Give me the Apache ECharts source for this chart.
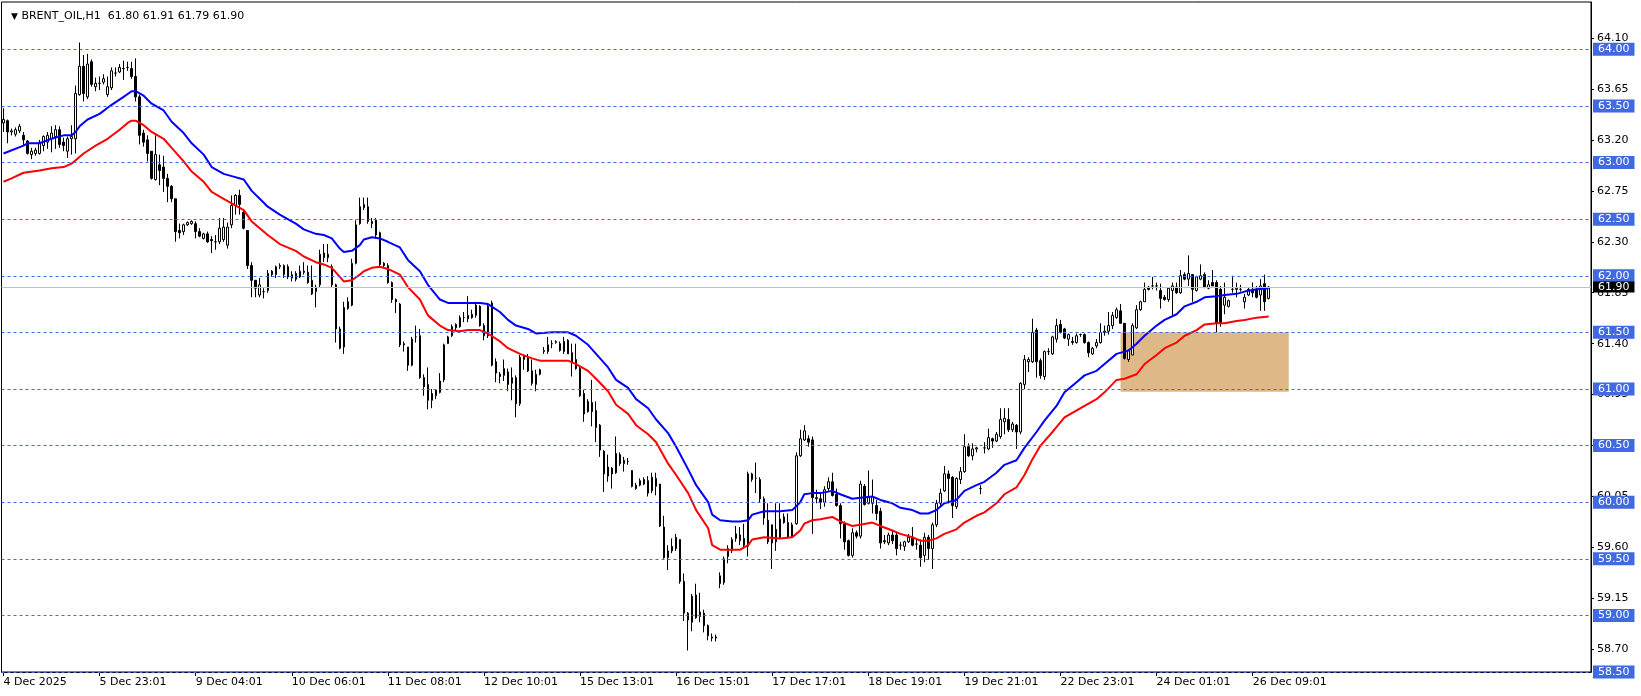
<!DOCTYPE html>
<html><head><meta charset="utf-8">
<script src="https://cdn.jsdelivr.net/npm/echarts@6/dist/echarts.min.js"></script>
<style>html,body{margin:0;padding:0;background:#fff;}#c{width:1641px;height:696px;}</style>
</head><body><div id="c"></div>
<script>
const symbolName = 'BRENT_OIL,H1';
const timeLabels = ['4 Dec 2025','5 Dec 23:01','9 Dec 04:01','10 Dec 06:01','11 Dec 08:01','12 Dec 10:01','15 Dec 13:01','16 Dec 15:01','17 Dec 17:01','18 Dec 19:01','19 Dec 21:01','22 Dec 23:01','24 Dec 01:01','26 Dec 09:01'];
const priceTicks = [58.70,59.15,59.60,60.05,60.50,60.95,61.40,61.85,62.30,62.75,63.20,63.65,64.10];
const levelLines = [58.5,59.0,59.5,60.0,60.5,61.0,61.5,62.0,62.5,63.0,63.5,64.0];
const currentPrice = 61.90;
const zoneBox = {fromBar: 279, toBar: 321, top: 61.50, bottom: 60.975};

const openP = [
63.35,63.37,63.27,63.25,63.28,63.24,63.19,63.07,63.08,63.08,
63.15,63.18,63.21,63.23,63.29,63.18,63.10,63.21,63.21,63.60,
63.85,63.58,63.89,63.67,63.70,63.71,63.60,63.66,63.79,63.80,
63.83,63.84,63.83,63.76,63.58,63.26,63.20,63.10,62.85,62.98,
62.96,62.86,62.79,62.68,62.40,62.39,62.45,62.46,62.46,62.39,
62.33,62.37,62.32,62.30,62.30,62.32,62.27,62.45,62.62,62.71,
62.56,62.40,62.09,61.96,61.83,61.86,61.87,62.04,62.01,62.08,
62.01,62.08,61.98,62.02,61.99,62.03,62.03,61.96,61.86,61.92,
62.20,62.16,62.08,61.92,61.53,61.37,61.71,61.74,62.11,62.46,
62.60,62.61,62.46,62.49,62.38,62.11,62.09,61.94,61.79,61.75,
61.40,61.37,61.21,61.46,61.47,61.10,61.04,60.96,60.94,60.97,
61.08,61.40,61.47,61.54,61.55,61.63,61.62,61.63,61.65,61.73,
61.56,61.47,61.76,61.24,61.13,61.12,61.15,61.05,61.10,60.87,
61.26,61.27,61.16,61.04,61.13,61.33,61.33,61.40,61.41,61.40,
61.33,61.43,61.32,61.26,61.18,60.96,60.80,60.88,60.81,60.68,
60.45,60.23,60.30,60.26,60.42,60.34,60.36,60.28,60.12,60.15,
60.16,60.19,60.10,60.14,60.16,59.78,59.51,59.57,59.59,59.67,
59.30,59.02,58.94,59.18,58.99,59.02,58.91,58.81,58.80,59.28,
59.29,59.52,59.57,59.68,59.71,59.68,59.61,60.20,60.21,60.20,
60.03,59.84,59.80,59.65,59.69,59.87,59.82,59.70,59.81,60.41,
60.55,60.56,60.55,60.03,60.03,60.00,60.12,60.18,60.07,59.97,
59.81,59.66,59.53,59.73,59.70,60.14,59.99,59.99,59.97,59.92,
59.66,59.64,59.71,59.71,59.62,59.61,59.65,59.69,59.63,59.62,
59.53,59.69,59.59,59.80,59.99,60.10,60.25,60.22,59.96,60.20,
60.27,60.49,60.41,60.47,60.12,60.48,60.47,60.56,60.54,60.58,
60.71,60.73,60.64,60.68,60.62,61.04,61.24,61.24,61.52,61.25,
61.11,61.33,61.31,61.44,61.57,61.53,61.44,61.41,61.41,61.48,
61.48,61.41,61.31,61.38,61.41,61.50,61.51,61.56,61.63,61.69,
61.58,61.26,61.30,61.54,61.70,61.77,61.90,61.91,61.91,61.87,
61.81,61.79,61.87,61.90,61.85,62.01,61.97,62.01,61.87,61.97,
62.01,61.89,61.94,61.94,61.88,61.74,61.73,61.88,61.88,61.88,
61.77,61.83,61.88,61.88,61.83,61.93,61.80];
const highP = [
63.48,63.38,63.30,63.31,63.34,63.27,63.20,63.13,63.13,63.20,
63.24,63.27,63.32,63.33,63.32,63.22,63.23,63.33,63.68,64.06,
63.95,63.96,63.91,63.75,63.76,63.78,63.76,63.84,63.84,63.87,
63.90,63.89,63.89,63.92,63.60,63.29,63.24,63.10,63.24,63.07,
63.06,62.90,62.80,62.68,62.46,62.46,62.48,62.49,62.48,62.42,
62.38,62.39,62.35,62.36,62.51,62.51,62.47,62.71,62.72,62.76,
62.58,62.40,62.12,61.96,61.98,61.89,62.05,62.05,62.09,62.11,
62.10,62.10,62.04,62.04,62.09,62.12,62.09,62.09,61.92,62.23,
62.28,62.28,62.10,61.93,61.55,61.77,61.81,62.15,62.49,62.69,
62.69,62.69,62.51,62.51,62.39,62.12,62.11,61.95,61.80,61.76,
61.42,61.37,61.46,61.56,61.53,61.13,61.19,61.00,61.00,61.14,
61.40,61.47,61.57,61.58,61.65,61.68,61.82,61.70,61.77,61.74,
61.58,61.76,61.78,61.27,61.15,61.26,61.18,61.19,61.12,61.30,
61.30,61.31,61.26,61.17,61.18,61.37,61.46,61.43,61.43,61.42,
61.46,61.44,61.40,61.40,61.20,60.99,60.91,61.08,60.89,60.69,
60.46,60.42,60.31,60.58,60.44,60.40,60.39,60.28,60.17,60.21,
60.22,60.23,60.26,60.26,60.16,59.88,59.62,59.68,59.72,59.67,
59.37,59.03,59.19,59.28,59.20,59.05,58.92,58.84,58.83,59.38,
59.52,59.62,59.69,59.79,59.78,59.81,60.27,60.26,60.35,60.22,
60.05,59.99,59.80,59.99,59.99,59.90,59.90,59.82,60.44,60.64,
60.68,60.59,60.58,60.11,60.09,60.14,60.22,60.26,60.12,59.99,
59.83,59.67,59.77,59.75,60.19,60.16,60.28,60.20,60.02,59.95,
59.71,59.73,59.75,59.74,59.65,59.66,59.72,59.78,59.68,59.67,
59.73,59.71,59.82,60.02,60.12,60.32,60.28,60.23,60.22,60.31,
60.60,60.52,60.52,60.49,60.15,60.53,60.65,60.57,60.62,60.83,
60.83,60.83,60.71,60.69,61.06,61.30,61.28,61.62,61.54,61.27,
61.34,61.36,61.47,61.62,61.61,61.54,61.49,61.46,61.49,61.49,
61.49,61.42,61.37,61.44,61.58,61.56,61.68,61.68,61.72,61.75,
61.58,61.35,61.58,61.74,61.78,61.94,61.91,61.99,61.94,61.93,
61.83,61.90,61.94,61.94,62.05,62.03,62.18,62.01,62.00,62.10,
62.03,61.96,62.05,61.96,61.91,61.94,61.79,62.00,61.94,61.92,
61.84,61.90,61.94,61.91,61.97,62.01,61.91];
const lowP = [
63.27,63.17,63.24,63.23,63.26,63.15,63.07,63.03,63.06,63.07,
63.10,63.12,63.09,63.12,63.13,63.10,63.04,63.07,63.08,63.59,
63.54,63.56,63.67,63.63,63.64,63.69,63.58,63.64,63.76,63.79,
63.73,63.81,63.74,63.54,63.16,63.14,63.01,62.85,62.84,62.80,
62.74,62.65,62.65,62.30,62.33,62.36,62.44,62.45,62.33,62.34,
62.32,62.29,62.20,62.23,62.28,62.30,62.24,62.42,62.54,62.54,
62.41,62.06,61.81,61.81,61.81,61.80,61.85,61.99,61.98,62.06,
61.98,61.97,61.95,61.95,61.98,62.01,61.93,61.83,61.72,61.90,
62.12,62.12,61.90,61.41,61.35,61.31,61.70,61.73,62.10,62.45,
62.58,62.46,62.42,62.33,62.08,62.07,61.93,61.76,61.67,61.37,
61.33,61.16,61.20,61.41,61.09,60.94,60.82,60.83,60.91,60.96,
61.06,61.40,61.46,61.52,61.54,61.59,61.59,61.62,61.63,61.55,
61.43,61.45,61.20,61.06,61.05,61.07,60.98,60.90,60.75,60.85,
61.17,61.15,61.03,60.98,61.12,61.31,61.31,61.36,61.40,61.33,
61.31,61.31,61.11,61.17,60.93,60.71,60.79,60.67,60.53,60.40,
60.09,60.18,60.12,60.25,60.32,60.27,60.33,60.13,60.11,60.14,
60.15,60.05,60.08,60.06,59.78,59.50,59.40,59.55,59.57,59.28,
58.95,58.69,58.86,58.97,58.94,58.85,58.78,58.77,58.77,59.24,
59.27,59.46,59.55,59.65,59.62,59.60,59.52,60.18,60.08,60.00,
59.80,59.63,59.41,59.57,59.68,59.81,59.68,59.69,59.80,60.40,
60.54,60.49,59.72,59.99,59.94,59.96,60.10,60.05,59.96,59.68,
59.58,59.52,59.51,59.68,59.68,59.97,59.98,59.90,59.84,59.59,
59.63,59.62,59.63,59.53,59.58,59.57,59.64,59.61,59.58,59.43,
59.47,59.49,59.41,59.78,59.96,60.09,59.99,59.86,59.94,60.16,
60.26,60.40,60.37,60.44,60.07,60.43,60.46,60.48,60.53,60.56,
60.60,60.62,60.62,60.47,60.60,61.00,61.15,61.23,61.10,61.09,
61.08,61.30,61.30,61.41,61.49,61.44,61.38,61.39,61.40,61.46,
61.40,61.28,61.30,61.36,61.40,61.47,61.48,61.53,61.62,61.58,
61.26,61.24,61.30,61.53,61.69,61.77,61.87,61.88,61.87,61.71,
61.78,61.77,61.65,61.84,61.84,61.96,61.91,61.77,61.86,61.96,
61.89,61.88,61.91,61.50,61.55,61.66,61.72,61.85,61.81,61.86,
61.71,61.82,61.81,61.80,61.69,61.69,61.79];
const closeP = [
63.38,63.27,63.28,63.29,63.32,63.20,63.08,63.10,63.11,63.18,
63.23,63.24,63.26,63.29,63.16,63.15,63.21,63.23,63.61,63.85,
63.61,63.87,63.69,63.70,63.70,63.74,63.67,63.81,63.79,63.84,
63.83,63.84,63.76,63.58,63.24,63.18,63.08,62.86,63.07,62.93,
62.86,62.79,62.68,62.39,62.38,62.45,62.47,62.48,62.39,62.35,
62.37,62.30,62.31,62.30,62.42,62.43,62.43,62.62,62.71,62.63,
62.42,62.09,61.96,61.89,61.92,61.86,62.02,62.01,62.08,62.09,
62.09,61.99,62.01,61.97,62.04,62.04,61.94,61.84,61.90,62.19,
62.16,62.19,61.92,61.53,61.36,61.72,61.77,62.11,62.45,62.61,
62.63,62.48,62.48,62.36,62.10,62.09,61.94,61.79,61.77,61.39,
61.39,61.21,61.44,61.46,61.10,61.02,60.90,60.90,60.99,61.07,
61.39,61.46,61.55,61.57,61.63,61.63,61.65,61.66,61.74,61.56,
61.47,61.73,61.21,61.14,61.11,61.18,61.04,61.10,60.87,61.28,
61.29,61.16,61.05,61.13,61.17,61.34,61.39,61.40,61.42,61.34,
61.42,61.31,61.23,61.18,60.94,60.78,60.89,60.80,60.66,60.46,
60.25,60.31,60.25,60.43,60.34,60.37,60.36,60.14,60.15,60.19,
60.20,60.08,60.22,60.21,59.79,59.51,59.57,59.61,59.69,59.30,
59.02,58.96,59.17,58.98,59.03,58.91,58.82,58.80,58.81,59.35,
59.50,59.59,59.67,59.72,59.66,59.62,60.25,60.25,60.21,60.03,
59.86,59.65,59.64,59.76,59.85,59.82,59.69,59.80,60.41,60.56,
60.63,60.53,60.04,60.04,60.00,60.11,60.18,60.06,59.97,59.81,
59.65,59.53,59.73,59.70,60.16,59.98,60.04,60.05,59.90,59.64,
59.65,59.71,59.66,59.59,59.62,59.65,59.69,59.62,59.63,59.51,
59.69,59.59,59.80,59.99,60.08,60.25,60.21,59.97,60.21,60.27,
60.49,60.41,60.47,60.48,60.12,60.48,60.57,60.54,60.60,60.73,
60.74,60.64,60.69,60.62,61.05,61.26,61.26,61.50,61.24,61.12,
61.33,61.33,61.46,61.56,61.50,61.45,61.48,61.42,61.47,61.48,
61.41,61.32,61.36,61.41,61.50,61.51,61.56,61.65,61.70,61.58,
61.27,61.34,61.56,61.70,61.77,61.88,61.88,61.91,61.91,61.80,
61.79,61.89,61.91,61.85,62.00,61.97,62.02,61.88,61.99,62.00,
61.90,61.92,61.91,61.58,61.58,61.81,61.78,61.88,61.89,61.88,
61.81,61.88,61.85,61.81,61.91,61.77,61.90];

// moving averages: [bar index, value]
const maBlue = [[0,63.08],[5,63.15],[6,63.17],[9,63.17],[12,63.21],[15,63.24],[17,63.24],[18,63.27],[19,63.32],[21,63.38],[24,63.43],[27,63.51],[30,63.58],[32,63.63],[33,63.63],[35,63.59],[37,63.52],[40,63.46],[42,63.36],[45,63.26],[47,63.17],[50,63.07],[52,62.96],[55,62.90],[57,62.88],[60,62.85],[62,62.75],[64,62.68],[66,62.61],[69,62.54],[73,62.46],[75,62.41],[78,62.37],[80,62.36],[82,62.33],[84,62.24],[85,62.21],[87,62.22],[89,62.27],[90,62.32],[92,62.34],[94,62.33],[96,62.30],[99,62.25],[101,62.14],[104,62.04],[106,61.92],[109,61.79],[111,61.76],[114,61.76],[116,61.76],[119,61.76],[121,61.75],[124,61.68],[126,61.61],[128,61.56],[131,61.53],[133,61.49],[137,61.50],[141,61.50],[143,61.47],[146,61.39],[148,61.31],[151,61.19],[153,61.08],[156,61.01],[158,60.91],[161,60.83],[163,60.73],[166,60.61],[168,60.49],[171,60.29],[173,60.15],[176,60.00],[177,59.89],[179,59.84],[182,59.83],[184,59.83],[186,59.84],[187,59.89],[190,59.92],[194,59.92],[197,59.93],[199,60.00],[200,60.07],[202,60.08],[204,60.08],[207,60.10],[209,60.07],[212,60.03],[214,60.04],[217,60.05],[219,60.02],[222,59.99],[224,59.95],[227,59.93],[229,59.90],[231,59.90],[233,59.93],[235,59.99],[238,60.02],[240,60.10],[243,60.15],[245,60.18],[248,60.26],[250,60.33],[253,60.37],[255,60.48],[258,60.62],[260,60.72],[263,60.85],[265,60.97],[268,61.06],[270,61.12],[273,61.16],[275,61.22],[278,61.31],[280,61.33],[281,61.34],[283,61.40],[285,61.47],[288,61.56],[290,61.61],[293,61.66],[295,61.73],[298,61.77],[300,61.81],[303,61.82],[305,61.83],[308,61.84],[310,61.86],[313,61.88],[316,61.89]];
const maRed = [[0,62.83],[2,62.86],[5,62.91],[9,62.93],[12,62.95],[15,62.96],[17,62.99],[20,63.08],[23,63.15],[26,63.21],[29,63.29],[31,63.35],[32,63.37],[33,63.37],[35,63.33],[37,63.27],[40,63.21],[42,63.13],[45,63.01],[47,62.92],[50,62.83],[52,62.74],[55,62.68],[57,62.64],[60,62.58],[62,62.48],[64,62.42],[66,62.36],[69,62.28],[73,62.22],[75,62.17],[78,62.12],[80,62.10],[82,62.07],[84,61.99],[85,61.95],[87,61.96],[89,62.01],[90,62.04],[92,62.07],[94,62.08],[96,62.06],[99,62.01],[101,61.90],[104,61.79],[106,61.65],[109,61.56],[111,61.52],[114,61.51],[116,61.52],[119,61.52],[121,61.49],[124,61.42],[126,61.36],[129,61.31],[132,61.27],[134,61.25],[137,61.25],[141,61.25],[143,61.22],[146,61.16],[148,61.09],[151,60.98],[153,60.86],[156,60.78],[158,60.68],[161,60.60],[163,60.53],[166,60.34],[168,60.24],[171,60.08],[173,59.93],[176,59.77],[177,59.62],[179,59.58],[182,59.58],[184,59.58],[186,59.62],[187,59.67],[190,59.69],[194,59.68],[197,59.69],[199,59.75],[200,59.81],[202,59.84],[204,59.85],[207,59.87],[209,59.83],[212,59.79],[214,59.80],[217,59.82],[219,59.79],[222,59.75],[224,59.72],[227,59.69],[229,59.66],[231,59.66],[233,59.68],[235,59.72],[238,59.76],[240,59.82],[243,59.88],[245,59.91],[248,59.99],[250,60.07],[253,60.13],[255,60.24],[257,60.38],[259,60.50],[262,60.62],[265,60.75],[270,60.85],[273,60.91],[275,60.97],[278,61.08],[280,61.09],[283,61.13],[285,61.22],[288,61.30],[290,61.36],[293,61.41],[295,61.47],[298,61.52],[300,61.57],[303,61.58],[305,61.58],[308,61.60],[310,61.61],[313,61.63],[316,61.64]];

const SLOTS = 397; // chart width in bar slots (empty space to the right)
const categories = Array.from({length: SLOTS}, (_, i) => i);
const candleData = openP.map((o, i) => [o, closeP[i], lowP[i], highP[i]]);
const last = openP.length - 1;
const fmt = v => v.toFixed(2);
const headerText = symbolName + '  ' + [openP[last], highP[last], lowP[last], closeP[last]].map(fmt).join(' ');
const showTick = idx => idx % 24 === 0 && idx / 24 < timeLabels.length;
const FONT = 'DejaVu Sans, Verdana, sans-serif';
const FS = 11;
const LEVEL_BLUE = '#4169E1';

const chart = echarts.init(document.getElementById('c'), null, {renderer: 'canvas'});
chart.setOption({
  animation: false,
  backgroundColor: '#ffffff',
  title: {
    text: '{t|▼} ' + headerText,
    left: 6, top: 6,
    textStyle: {fontFamily: FONT, fontSize: FS, fontWeight: 'normal', color: '#000',
      rich: {t: {fontSize: 9, color: '#000', fontFamily: 'DejaVu Sans'}}}
  },
  grid: {left: 1.5, right: 50, top: 2, bottom: 24, show: true, borderColor: '#000', borderWidth: 1, backgroundColor: 'transparent'},
  xAxis: {
    type: 'category', data: categories, boundaryGap: true,
    axisLine: {show: true, lineStyle: {color: '#000', width: 1}},
    axisTick: {show: true, alignWithLabel: true, interval: showTick, length: 4, lineStyle: {color: '#000'}},
    axisLabel: {interval: showTick, align: 'left', margin: 5, color: '#000', fontFamily: FONT, fontSize: FS,
      formatter: (v, idx) => showTick(idx) ? timeLabels[idx / 24] : ''},
    splitLine: {show: false}
  },
  yAxis: {
    type: 'value', position: 'right', min: 58.5, max: 64.418, scale: true,
    axisLine: {show: true, lineStyle: {color: '#000', width: 1}},
    axisTick: {show: true, length: 3, customValues: priceTicks, lineStyle: {color: '#000'}},
    axisLabel: {customValues: priceTicks, margin: 6, color: '#000', fontFamily: FONT, fontSize: FS, formatter: v => fmt(v)},
    splitLine: {show: false}
  },
  series: [
    {
      type: 'candlestick', name: 'price', data: candleData, barWidth: 2,
      itemStyle: {color: '#ffffff', color0: '#000000', borderColor: '#000000', borderColor0: '#000000', borderWidth: 1},
      markArea: {silent: true, itemStyle: {color: '#DEB887', opacity: 1},
        data: [[{xAxis: zoneBox.fromBar, yAxis: zoneBox.top}, {xAxis: zoneBox.toBar, yAxis: zoneBox.bottom}]]},
      z: 3
    },
    {type: 'line', name: 'ma1', data: maBlue, showSymbol: false, symbol: 'none', lineStyle: {color: '#0000FF', width: 2}, z: 4},
    {type: 'line', name: 'ma2', data: maRed, showSymbol: false, symbol: 'none', lineStyle: {color: '#FF0000', width: 2}, z: 4},
    {
      type: 'line', name: 'levels', data: [], z: 5,
      markLine: {
        silent: true, symbol: 'none', animation: false,
        lineStyle: {color: LEVEL_BLUE, type: [3, 3], width: 1},
        label: {show: true, position: 'end', distance: 2, formatter: p => fmt(p.value), color: '#ffffff',
          backgroundColor: LEVEL_BLUE, padding: [1, 5, 0, 5], lineHeight: 12, fontFamily: FONT, fontSize: FS},
        data: levelLines.map(v => ({yAxis: v}))
      }
    },
    {
      type: 'line', name: 'current', data: [], z: 2,
      markLine: {
        silent: true, symbol: 'none', animation: false,
        lineStyle: {color: '#C0C0C0', type: 'solid', width: 1},
        label: {show: true, position: 'end', distance: 2, formatter: p => fmt(p.value), color: '#ffffff',
          backgroundColor: '#000000', padding: [0, 5, 0, 5], lineHeight: 11, fontFamily: FONT, fontSize: FS},
        data: [{yAxis: currentPrice}]
      }
    }
  ]
});
</script></body></html>
